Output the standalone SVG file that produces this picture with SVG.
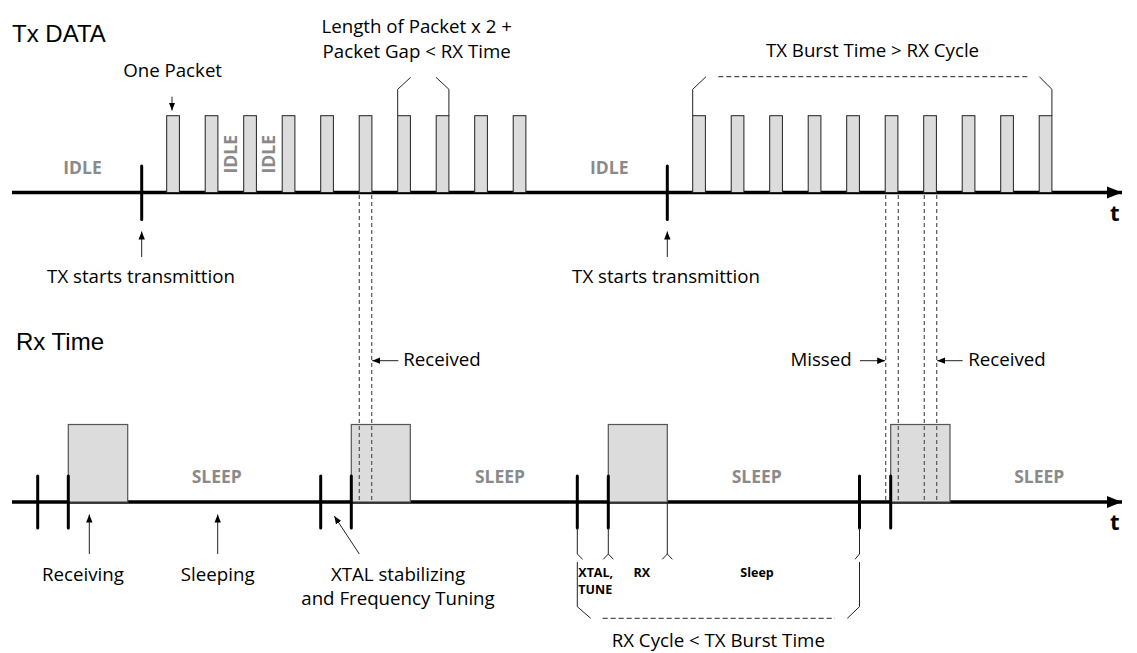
<svg xmlns="http://www.w3.org/2000/svg" width="1137" height="653" viewBox="0 0 1137 653">
<style>
.lbl{font-family:"Open Sans","Liberation Sans",sans-serif;font-size:18.7px;fill:#000}
.ttl{font-family:"Liberation Sans",Arial,sans-serif;font-size:24px;fill:#000}
.st{font-family:"Open Sans","Liberation Sans",sans-serif;font-size:17.5px;font-weight:bold;fill:#8a8a8a}
.sm{font-family:"Open Sans","Liberation Sans",sans-serif;font-size:12.5px;font-weight:bold;fill:#000}
.tt{font-family:"Open Sans","Liberation Sans",sans-serif;font-size:22px;font-weight:bold;fill:#000}
.axis{stroke:#000;stroke-width:3.5;fill:none}
.tick{stroke:#000;stroke-width:3;fill:none;stroke-linecap:round}
.pkt{fill:#dcdcdc;stroke:#222;stroke-width:1}
.rxb{fill:#dcdcdc;stroke:#555;stroke-width:1.2}
.thin{stroke:#222;stroke-width:1;fill:none}
.dash{stroke:#555;stroke-width:1.2;stroke-dasharray:4 3;fill:none}
.bdash{stroke:#222;stroke-width:1;stroke-dasharray:5 3;fill:none}
.arr{stroke:#222;stroke-width:1;fill:none;marker-end:url(#ah)}
</style>
<defs>
<marker id="ah" markerUnits="userSpaceOnUse" markerWidth="10" markerHeight="8" refX="8" refY="4" orient="auto">
<path d="M0,0.8 L8,4 L0,7.2 Z" fill="#000"/>
</marker>
<marker id="axh" markerUnits="userSpaceOnUse" markerWidth="16" markerHeight="14" refX="15" refY="7" orient="auto">
<path d="M0,1 L15,7 L0,13 Z" fill="#000"/>
</marker>
</defs>

<g id="titles">
<text class="ttl" x="12" y="42">Tx DATA</text>
<text class="ttl" x="16" y="350">Rx Time</text>
</g>

<g id="tx-axis">
<line class="axis" x1="12" y1="192.5" x2="1122" y2="192.5" marker-end="url(#axh)"/>
<text class="tt" x="1110" y="220.7">t</text>
</g>

<g id="rx-axis">
<line class="axis" x1="12" y1="502" x2="1122" y2="502" marker-end="url(#axh)"/>
<text class="tt" x="1110" y="529.5">t</text>
</g>

<g id="tx-packets-1">
<rect class="pkt" x="166.7" y="115.7" width="12.7" height="76.8"/>
<rect class="pkt" x="205.2" y="115.7" width="12.7" height="76.8"/>
<rect class="pkt" x="243.7" y="115.7" width="12.7" height="76.8"/>
<rect class="pkt" x="282.2" y="115.7" width="12.7" height="76.8"/>
<rect class="pkt" x="320.7" y="115.7" width="12.7" height="76.8"/>
<rect class="pkt" x="359.2" y="115.7" width="12.7" height="76.8"/>
<rect class="pkt" x="397.7" y="115.7" width="12.7" height="76.8"/>
<rect class="pkt" x="436.2" y="115.7" width="12.7" height="76.8"/>
<rect class="pkt" x="474.7" y="115.7" width="12.7" height="76.8"/>
<rect class="pkt" x="513.2" y="115.7" width="12.7" height="76.8"/>
</g>

<g id="tx-packets-2">
<rect class="pkt" x="692.7" y="115.7" width="12.7" height="76.8"/>
<rect class="pkt" x="731.2" y="115.7" width="12.7" height="76.8"/>
<rect class="pkt" x="769.7" y="115.7" width="12.7" height="76.8"/>
<rect class="pkt" x="808.2" y="115.7" width="12.7" height="76.8"/>
<rect class="pkt" x="846.7" y="115.7" width="12.7" height="76.8"/>
<rect class="pkt" x="885.2" y="115.7" width="12.7" height="76.8"/>
<rect class="pkt" x="923.7" y="115.7" width="12.7" height="76.8"/>
<rect class="pkt" x="962.2" y="115.7" width="12.7" height="76.8"/>
<rect class="pkt" x="1000.7" y="115.7" width="12.7" height="76.8"/>
<rect class="pkt" x="1039.2" y="115.7" width="12.7" height="76.8"/>
</g>

<g id="tx-labels">
<text class="st" x="82.5" y="174" text-anchor="middle">IDLE</text>
<text class="st" x="609.3" y="174" text-anchor="middle">IDLE</text>
<text class="st" transform="translate(236.7,154.2) rotate(-90)" text-anchor="middle">IDLE</text>
<text class="st" transform="translate(275,154.2) rotate(-90)" text-anchor="middle">IDLE</text>
<text class="lbl" x="172.6" y="77.3" text-anchor="middle">One Packet</text>
<text class="lbl" x="416.7" y="33.3" text-anchor="middle">Length of Packet x 2 +</text>
<text class="lbl" x="416.7" y="58" text-anchor="middle">Packet Gap &lt; RX Time</text>
<text class="lbl" x="872.5" y="57.3" text-anchor="middle">TX Burst Time &gt; RX Cycle</text>
<text class="lbl" x="141" y="282.7" text-anchor="middle">TX starts transmittion</text>
<text class="lbl" x="666" y="282.7" text-anchor="middle">TX starts transmittion</text>
</g>

<g id="tx-ticks">
<line class="tick" x1="141.7" y1="166" x2="141.7" y2="219.5"/>
<line class="tick" x1="667.3" y1="166" x2="667.3" y2="219.5"/>
</g>

<g id="rx-boxes">
<rect class="rxb" x="68.3" y="424.5" width="59.4" height="77.5"/>
<rect class="rxb" x="351.3" y="424.5" width="59" height="77.5"/>
<rect class="rxb" x="608.3" y="424.5" width="59" height="77.5"/>
<rect class="rxb" x="890.7" y="424.5" width="59.3" height="77.5"/>
</g>

<g id="rx-ticks">
<line class="tick" x1="37.7" y1="476" x2="37.7" y2="528"/>
<line class="tick" x1="68.3" y1="476" x2="68.3" y2="528"/>
<line class="tick" x1="320.7" y1="476" x2="320.7" y2="528"/>
<line class="tick" x1="351.3" y1="476" x2="351.3" y2="528"/>
<line class="tick" x1="577.3" y1="476" x2="577.3" y2="528"/>
<line class="tick" x1="608.3" y1="476" x2="608.3" y2="528"/>
<line class="tick" x1="859.5" y1="476" x2="859.5" y2="528"/>
<line class="tick" x1="890.7" y1="476" x2="890.7" y2="528"/>
</g>

<g id="rx-labels">
<text class="st" x="216.7" y="482.5" text-anchor="middle">SLEEP</text>
<text class="st" x="500" y="482.5" text-anchor="middle">SLEEP</text>
<text class="st" x="756.7" y="482.5" text-anchor="middle">SLEEP</text>
<text class="st" x="1039.3" y="482.5" text-anchor="middle">SLEEP</text>
<text class="lbl" x="83" y="581" text-anchor="middle">Receiving</text>
<text class="lbl" x="217.7" y="581" text-anchor="middle">Sleeping</text>
<text class="lbl" x="398" y="581" text-anchor="middle">XTAL stabilizing</text>
<text class="lbl" x="398" y="605" text-anchor="middle">and Frequency Tuning</text>
<text class="lbl" x="403.3" y="366">Received</text>
<text class="lbl" x="851.7" y="366" text-anchor="end">Missed</text>
<text class="lbl" x="968.3" y="366">Received</text>
<text class="sm" x="578.3" y="576.7">XTAL,</text>
<text class="sm" x="578.3" y="594.3">TUNE</text>
<text class="sm" x="641.7" y="576.7" text-anchor="middle">RX</text>
<text class="sm" x="757" y="576.7" text-anchor="middle">Sleep</text>
<text class="lbl" x="718.3" y="647" text-anchor="middle">RX Cycle &lt; TX Burst Time</text>
</g>

<g id="connectors">
<line class="arr" x1="172" y1="96.7" x2="172" y2="110.5"/>
<line class="arr" x1="141.7" y1="257" x2="141.7" y2="231.5"/>
<line class="arr" x1="667.3" y1="257" x2="667.3" y2="231.5"/>
<line class="arr" x1="89.3" y1="554" x2="89.3" y2="514.5"/>
<line class="arr" x1="217.7" y1="554" x2="217.7" y2="514.5"/>
<line class="arr" x1="359.3" y1="554" x2="334.3" y2="516"/>
<line class="arr" x1="398.3" y1="360.7" x2="372.2" y2="360.7"/>
<line class="arr" x1="860" y1="360.7" x2="885.2" y2="360.7"/>
<line class="arr" x1="962.7" y1="360.7" x2="937.2" y2="360.7"/>
<line class="dash" x1="359.3" y1="195" x2="359.3" y2="502"/>
<line class="dash" x1="371.7" y1="195" x2="371.7" y2="502"/>
<line class="dash" x1="885.7" y1="195" x2="885.7" y2="502"/>
<line class="dash" x1="898.3" y1="195" x2="898.3" y2="502"/>
<line class="dash" x1="924.3" y1="195" x2="924.3" y2="502"/>
<line class="dash" x1="936.7" y1="195" x2="936.7" y2="502"/>
<path class="thin" d="M397.7,115.7 V89.3 L410.7,77.3 M448.9,115.7 V89.3 L436,77.3"/>
<path class="thin" d="M692.7,115.7 V89.3 L706,76.7 M1051.9,115.7 V89.3 L1039.3,76.7"/>
<line class="bdash" x1="718.3" y1="76.7" x2="1028.3" y2="76.7"/>
<path class="thin" d="M577.3,528 V554 L582.7,559.3"/>
<path class="thin" d="M608.3,528 V554 M603.3,559.3 L608.3,554 L613.3,559.3"/>
<path class="thin" d="M667.3,502 V554 M662.3,559.3 L667.3,554 L672.3,559.3"/>
<path class="thin" d="M859.5,528 V554 L855,559.3"/>
<path class="thin" d="M577.3,562 V606.7 L590.7,618.3 M859.5,562 V606.7 L847.3,618.3"/>
<line class="bdash" x1="602.7" y1="618.3" x2="835" y2="618.3"/>
</g>
</svg>
